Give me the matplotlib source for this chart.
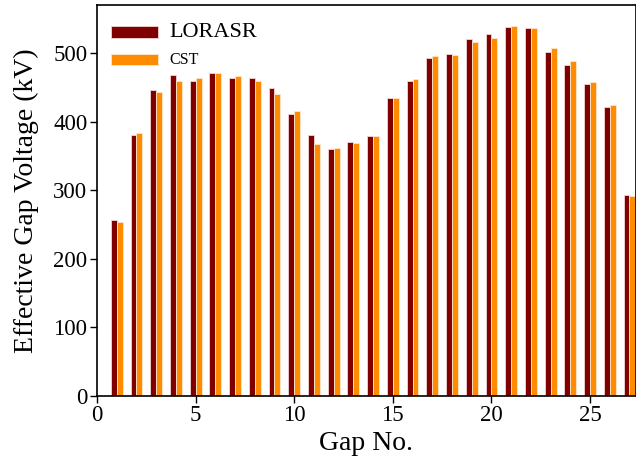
import matplotlib
matplotlib.use("Agg")
import matplotlib.pyplot as plt
import numpy as np

plt.rcParams["font.family"] = ["Liberation Serif", "DejaVu Serif"]

# effective gap voltages (kV)
gaps = np.arange(1, 28)
lorasr = [257, 381, 446, 468, 459, 471, 463, 464, 449, 411, 381, 360, 370,
          379, 434, 459, 493, 499, 521, 528, 538, 537, 501, 483, 455, 421, 293]
cst = [254, 383, 444, 460, 463, 471, 467, 460, 441, 416, 367, 361, 369,
       379, 434, 462, 496, 498, 516, 522, 540, 537, 507, 489, 458, 424, 292]

fig = plt.figure(figsize=(6.36, 4.70), dpi=100)
ax = fig.add_axes([0.1525, 0.158, 0.8475, 0.831])

w = 0.3
ax.bar(gaps - w / 2, lorasr, w, color="#800000", edgecolor="#f3d6d6",
       linewidth=0.6, label="LORASR")
ax.bar(gaps + w / 2, cst, w, color="#ff8c00", edgecolor="#fde6cc",
       linewidth=0.6, label="CST")

ax.set_xlim(0, 27.33)
ax.set_ylim(0, 570)
ax.set_xticks([0, 5, 10, 15, 20, 25])
ax.set_yticks([0, 100, 200, 300, 400, 500])
ax.tick_params(labelsize=16.5, direction="out", length=5, width=1, pad=2)
for s in ax.spines.values():
    s.set_linewidth(1.2)

ax.set_xlabel("Gap No.", fontsize=20, labelpad=3)
ax.set_ylabel("Effective Gap Voltage (kV)", fontsize=20, labelpad=10)

leg = ax.legend(loc="upper left", frameon=False, handlelength=3.4,
                handleheight=0.9, borderaxespad=0.3, labelspacing=0.75,
                bbox_to_anchor=(0.008, 0.98))
leg.get_texts()[0].set_fontsize(16)
leg.get_texts()[1].set_fontsize(11.5)

fig.savefig("out.png", dpi=100)
